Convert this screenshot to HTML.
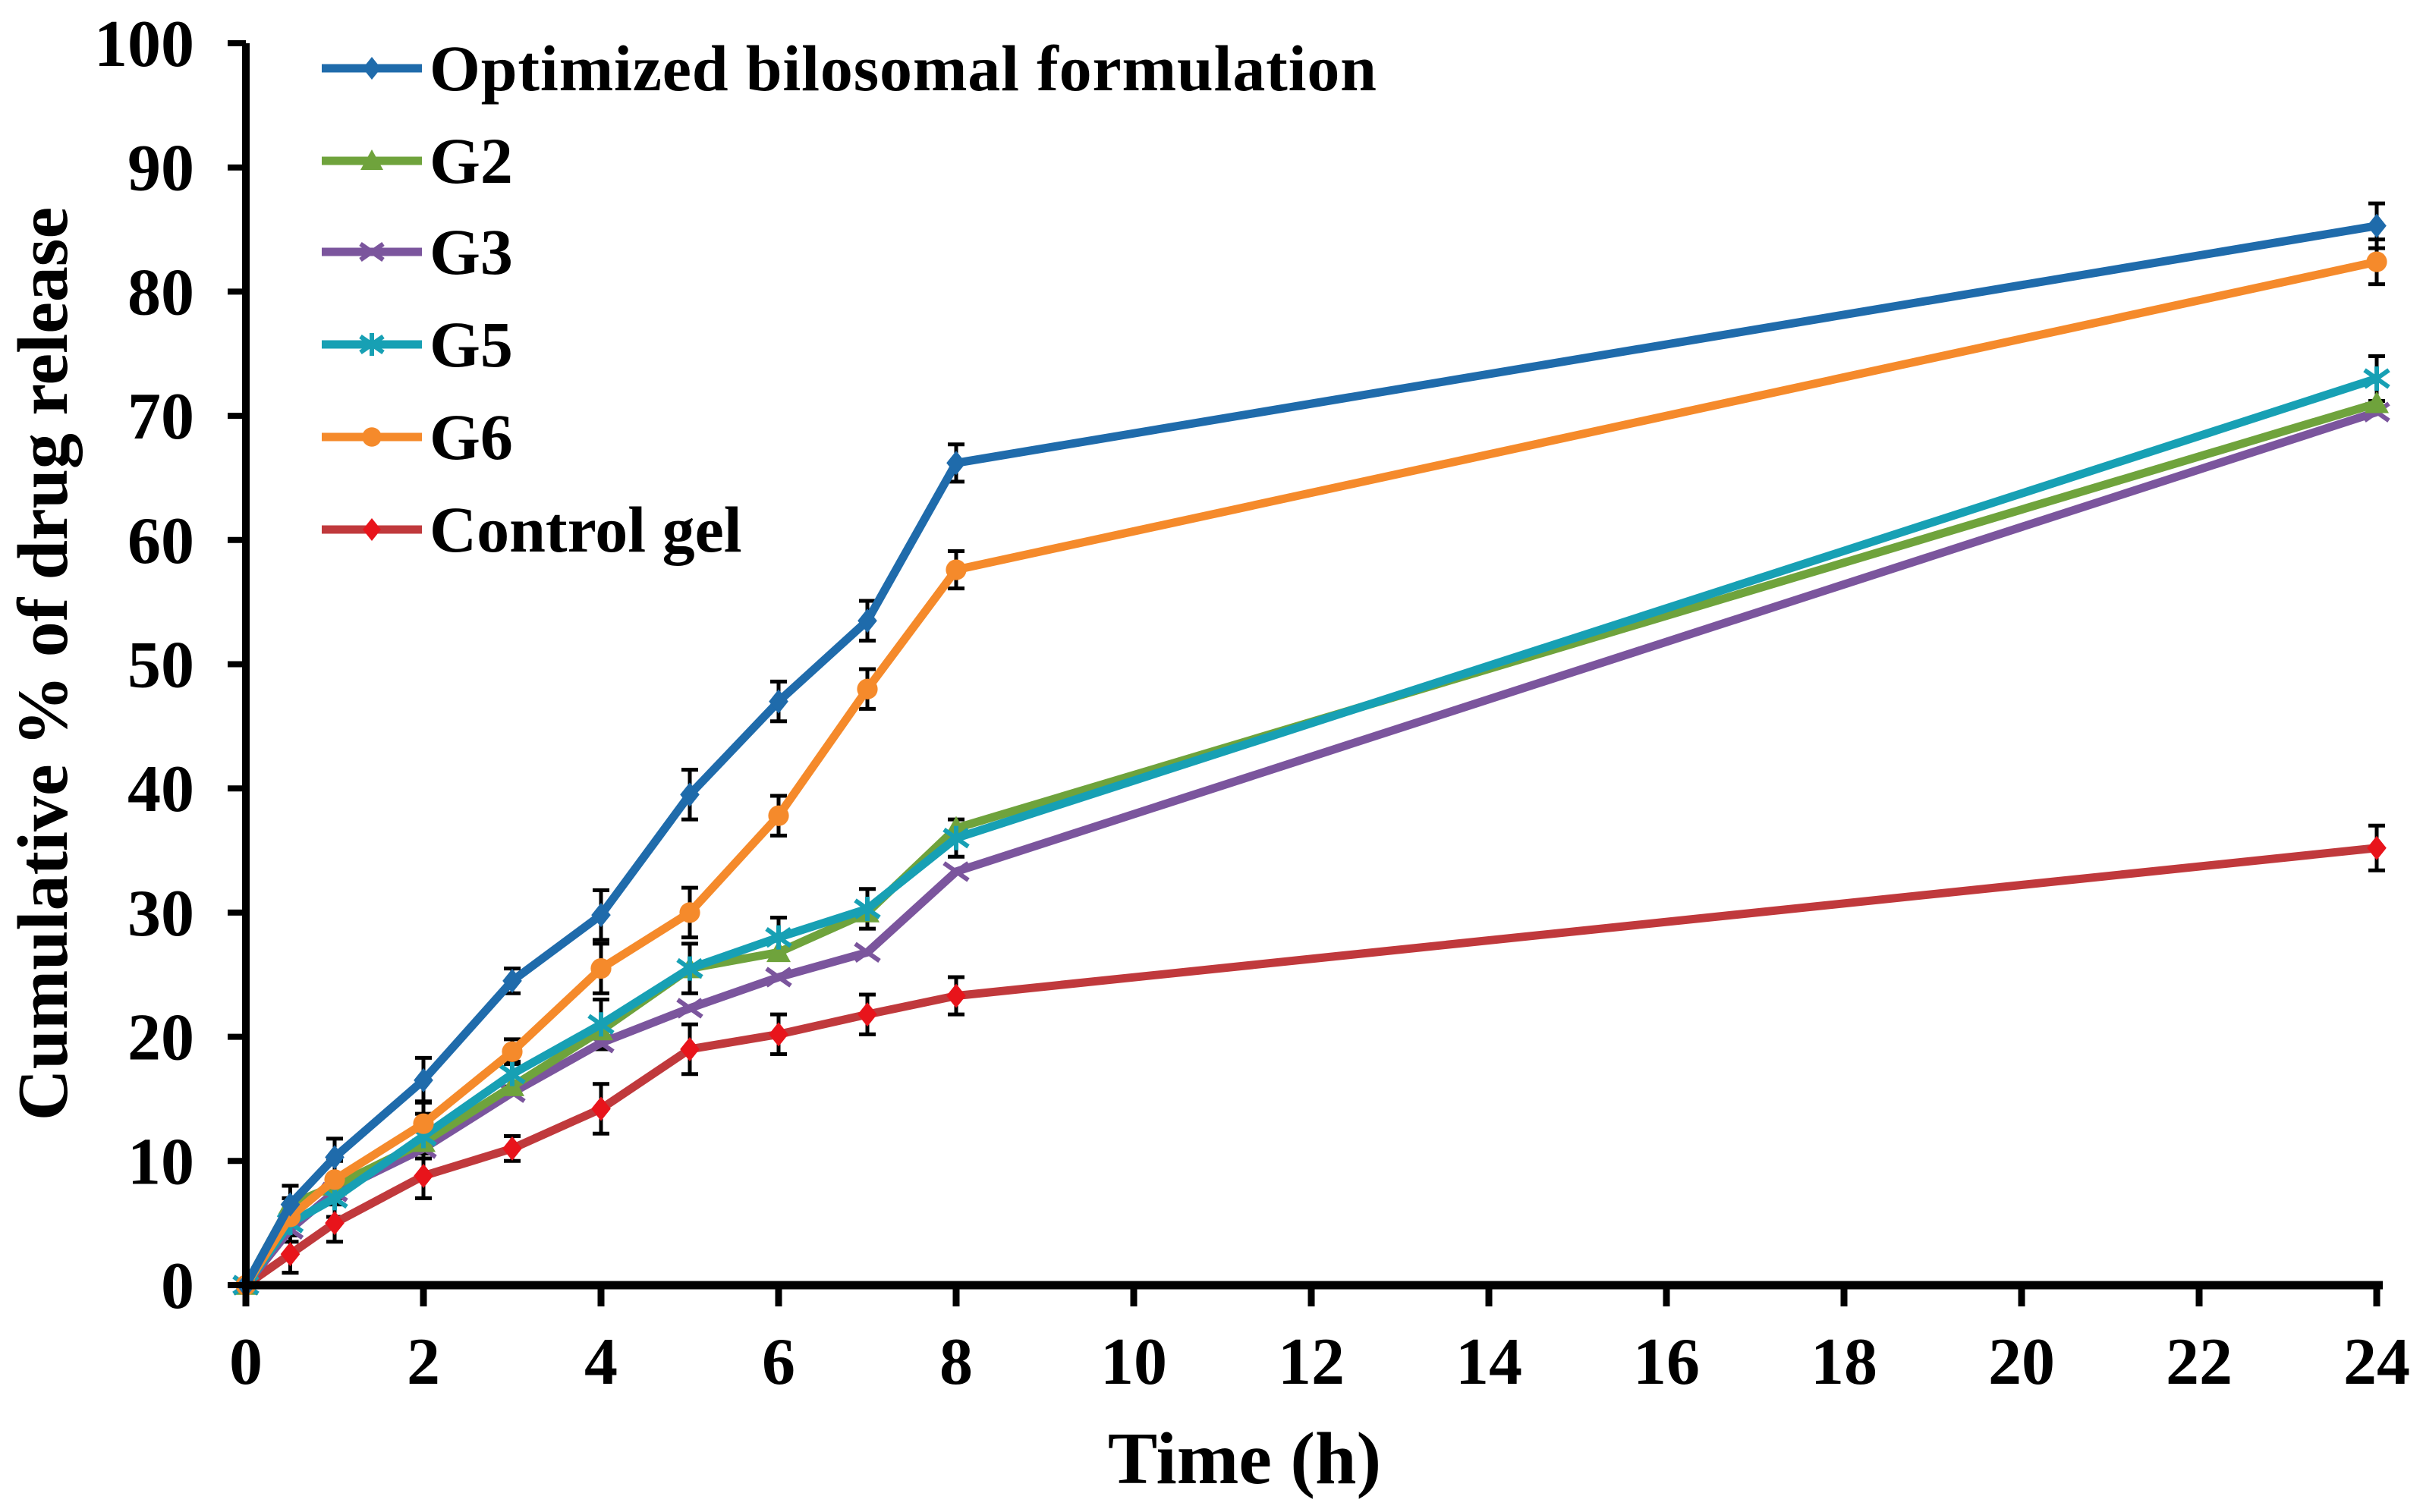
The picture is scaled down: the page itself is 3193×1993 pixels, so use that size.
<!DOCTYPE html>
<html><head><meta charset="utf-8"><style>
html,body{margin:0;padding:0;background:#fff}
svg{display:block}
text{font-family:"Liberation Serif",serif;font-weight:bold;fill:#000}
</style></head><body>
<svg id="chart" width="3193" height="1993" viewBox="0 0 3193 1993" xmlns="http://www.w3.org/2000/svg">
<g id="grid"></g>
<g id="series"></g>
<g id="axes"></g>
<g id="legend"></g>
<text x="1640" y="1955" font-size="98" text-anchor="middle">Time (h)</text>
<text transform="translate(88,875) rotate(-90)" font-size="94" text-anchor="middle">Cumulative % of drug release</text>
</svg>
<script>
const times = [0,0.5,1,2,3,4,5,6,7,8,24];
const seriesNames = ["Optimized bilosomal formulation","G2","G3","G5","G6","Control gel"];
const optimized = [0,6.5,10.3,16.5,24.5,29.8,39.5,47,53.5,66.2,85.3];
const g2 = [0,6.5,8,11.5,16,20.5,25.5,26.8,30,36.8,71];
const g3 = [0,4.5,7.5,11,15.5,19.5,22.3,24.8,26.8,33.3,70.3];
const g5 = [0,5,7,12,17,21,25.5,28,30.3,36,73];
const g6 = [0,5.5,8.5,13,18.8,25.5,30,37.8,48,57.6,82.4];
const control = [0,2.5,5,8.8,11,14.2,19,20.2,21.8,23.3,35.2];
const errors = [0.5,1.5,1.5,1.8,1,2,2,1.6,1.6,1.5,1.8];
const xTicks = [0,2,4,6,8,10,12,14,16,18,20,22,24];
const yTicks = [0,10,20,30,40,50,60,70,80,90,100];

const NS="http://www.w3.org/2000/svg";
const X0=324,X1=3132,Y0=1694,Y1=57;
const xs=v=>X0+(v/24)*(X1-X0);
const ys=v=>Y0-(v/100)*(Y0-Y1);
function mk(tag,attrs,parent){const e=document.createElementNS(NS,tag);for(const k in attrs)e.setAttribute(k,attrs[k]);parent.appendChild(e);return e;}
const axes=document.getElementById('axes'),ser=document.getElementById('series'),leg=document.getElementById('legend');

const colors=["#1f6bab","#6fa33c","#7b559d","#17a0b4","#f58a2b","#c0393c"];
const markerCol=["#1f6bab","#6fa33c","#7b559d","#17a0b4","#f58a2b","#e8141b"];
const markers=["diamond","triangle","x","star","circle","diamond"];
const data=[optimized,g2,g3,g5,g6,control];

function marker(type,cx,cy,col,parent,s){
  let e;
  if(type==="diamond") e=mk('polygon',{points:`${cx},${cy-s} ${cx+s*0.8},${cy} ${cx},${cy+s} ${cx-s*0.8},${cy}`,fill:col},parent);
  else if(type==="triangle") e=mk('polygon',{points:`${cx},${cy-s} ${cx+s},${cy+s*0.8} ${cx-s},${cy+s*0.8}`,fill:col},parent);
  else if(type==="circle") e=mk('circle',{cx:cx,cy:cy,r:s*0.85,fill:col},parent);
  else if(type==="x") e=mk('path',{d:`M${cx-s},${cy-s*0.7}L${cx+s},${cy+s*0.7}M${cx-s},${cy+s*0.7}L${cx+s},${cy-s*0.7}`,stroke:col,'stroke-width':6},parent);
  else e=mk('path',{d:`M${cx-s},${cy-s*0.7}L${cx+s},${cy+s*0.7}M${cx-s},${cy+s*0.7}L${cx+s},${cy-s*0.7}M${cx},${cy-s}L${cx},${cy+s}`,stroke:col,'stroke-width':6},parent);
  return e;
}

data.forEach((d,si)=>{
  if(si===1||si===2) return;
  d.forEach((v,i)=>{
    if(i===0) return;
    const x=xs(times[i]),e=errors[i];
    const eb=mk('path',{d:`M${x},${ys(v+e)}V${ys(v-e)}M${x-11},${ys(v+e)}h22M${x-11},${ys(v-e)}h22`,stroke:'#000','stroke-width':5,fill:'none'},ser);
    
    
  });
});
[5,2,1,3,4,0].forEach(si=>{
  const d=data[si];
  const g=mk('g',{},ser);
  
  
  const pl=mk('polyline',{points:d.map((v,i)=>xs(times[i])+','+ys(v)).join(' '),fill:'none',stroke:colors[si],'stroke-width':11,'stroke-linejoin':'round'},g);
  
  
  d.forEach((v,i)=>{
    const m=marker(markers[si],xs(times[i]),ys(v),markerCol[si],g,16);
    
    
  });
});
const xa=mk('line',{x1:X0-5,y1:Y0,x2:X1+8,y2:Y0,stroke:'#000','stroke-width':11},axes);


const ya=mk('line',{x1:X0,y1:Y1,x2:X0,y2:Y0+5,stroke:'#000','stroke-width':10},axes);


xTicks.forEach(t=>{
  const x=xs(t);
  mk('line',{x1:x,y1:Y0,x2:x,y2:Y0+28,stroke:'#000','stroke-width':9},axes);
  const tx=mk('text',{x:x,y:Y0+130,'font-size':88,'text-anchor':'middle'},axes);
  tx.textContent=t;
  
  
});
yTicks.forEach(t=>{
  const y=ys(t);
  mk('line',{x1:X0-24,y1:y,x2:X0,y2:y,stroke:'#000','stroke-width':8},axes);
  const tx=mk('text',{x:X0-68,y:y+30,'font-size':88,'text-anchor':'end'},axes);
  tx.textContent=t;
  
  
});
const ly=[90,212,332,454,576,698];
seriesNames.forEach((n,si)=>{
  const g=mk('g',{},leg);
  
  
  mk('line',{x1:424,y1:ly[si],x2:556,y2:ly[si],stroke:colors[si],'stroke-width':11},g);
  marker(markers[si],490,ly[si],markerCol[si],g,15);
  const t=mk('text',{x:566,y:ly[si]+29,'font-size':86},g);
  t.textContent=n;
  if(si===0) t.setAttribute('textLength','1248');
});
</script>
</body></html>
